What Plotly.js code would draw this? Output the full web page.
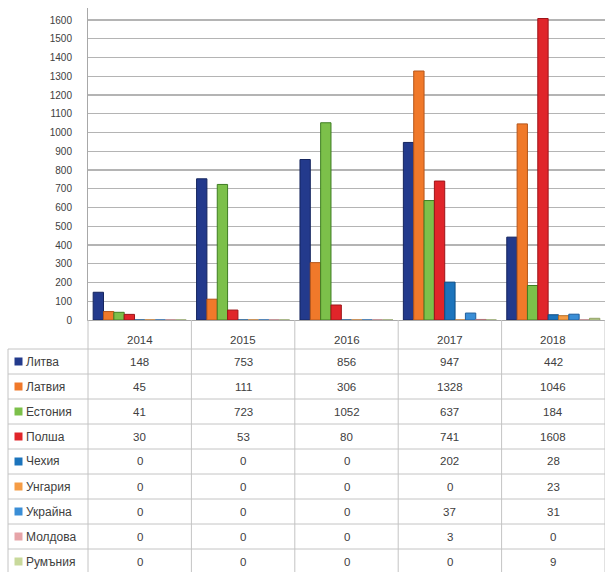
<!DOCTYPE html>
<html><head><meta charset="utf-8">
<script src="https://cdn.plot.ly/plotly-3.0.1.min.js"></script>
<style>html,body{margin:0;padding:0;background:#fff}#c{width:605px;height:572px}</style>
</head><body><div id="c"></div>
<script>
const years = ['2014','2015','2016','2017','2018'];
const countries = ['Литва','Латвия','Естония','Полша','Чехия','Унгария','Украйна','Молдова','Румъния'];
const litva   = [148, 753, 856, 947, 442];
const latvia  = [45, 111, 306, 1328, 1046];
const estonia = [41, 723, 1052, 637, 184];
const polsha  = [30, 53, 80, 741, 1608];
const chehia  = [0, 0, 0, 202, 28];
const ungaria = [0, 0, 0, 0, 23];
const ukraina = [0, 0, 0, 37, 31];
const moldova = [0, 0, 0, 3, 0];
const rumunia = [0, 0, 0, 0, 9];
const yTicks = [0,100,200,300,400,500,600,700,800,900,1000,1100,1200,1300,1400,1500,1600];

const series = [litva, latvia, estonia, polsha, chehia, ungaria, ukraina, moldova, rumunia];
const colors = ['#233A8C','#F0792A','#7CC04A','#E0252A','#1C74BC','#F59C45','#3A8ED6','#E6A4A8','#C8D99B'];
const edges  = ['#15255E','#B5561A','#3E7D22','#9E1418','#0F4E86','#B87026','#1F5F9E','#B07277','#8FA065'];

const W = 605, H = 572;
const plotL = 88;
const colW = (W - plotL) / years.length;
const px = v => v / W;
const py = v => 1 - v / H;
const colX = k => px(plotL + (k + 0.5) * colW);

const traces = series.map((vals, i) => ({
  type: 'bar', x: years, y: vals, name: countries[i],
  marker: {color: colors[i], line: {color: edges[i], width: 1}},
  hoverinfo: 'x+y+name'
}));

const lineCol = '#C4C4C4';
const shapes = [];
const annotations = [];
const rowTop = 349, rowH = 25;
for (let r = 0; r <= countries.length; r++) {
  const y = rowTop + r * rowH;
  shapes.push({type:'line', xref:'paper', yref:'paper', x0:px(8), x1:1, y0:py(y), y1:py(y), line:{color:lineCol, width:1}});
}
shapes.push({type:'line', xref:'paper', yref:'paper', x0:px(8), x1:px(8), y0:py(rowTop), y1:py(H+5), line:{color:lineCol, width:1}});
for (let k = 0; k <= years.length; k++) {
  const xx = px(plotL + k * colW);
  shapes.push({type:'line', xref:'paper', yref:'paper', x0:xx, x1:xx, y0:py(320), y1:py(H+5), line:{color:lineCol, width:1}});
}
years.forEach((yr, k) => annotations.push({xref:'paper', yref:'paper', x:colX(k), y:py(340), text:yr, showarrow:false,
  font:{size:11.5, color:'#404040'}, xanchor:'center', yanchor:'middle'}));
countries.forEach((c, i) => {
  const cy = rowTop + i * rowH + rowH / 2;
  shapes.push({type:'rect', xref:'paper', yref:'paper', x0:px(14.5), x1:px(22.5), y0:py(cy-4), y1:py(cy+4),
    fillcolor: colors[i], line:{width:0}});
  annotations.push({xref:'paper', yref:'paper', x:px(24), y:py(cy), text:c, showarrow:false,
    font:{size:12, color:'#404040'}, xanchor:'left', yanchor:'middle'});
  series[i].forEach((v, j) => annotations.push({xref:'paper', yref:'paper', x:colX(j), y:py(cy), text:String(v),
    showarrow:false, font:{size:11.5, color:'#404040'}, xanchor:'center', yanchor:'middle'}));
});

const layout = {
  width: W, height: H,
  margin: {l:0, r:0, t:0, b:0},
  paper_bgcolor: '#fff', plot_bgcolor: '#fff',
  font: {family: '"Liberation Sans", Arial, sans-serif', color: '#404040'},
  showlegend: false,
  barmode: 'group', bargap: 0.1, bargroupgap: 0,
  xaxis: {type:'category', domain:[plotL/W, 1], range:[-0.5, 4.5], showticklabels:false, ticks:'',
    showgrid:false, zeroline:false, showline:true, linecolor:'#A8A8A8', linewidth:1, fixedrange:true},
  yaxis: {domain:[1 - 320/H, 1 - 8/H], range:[0, 1664], tickvals: yTicks, ticktext: yTicks.map(String),
    tickfont:{size:10, color:'#404040'}, ticks:'', ticklabelstandoff: 13,
    showgrid:true, gridcolor:'#B4B4B4', gridwidth:1.3, zeroline:false,
    showline:true, linecolor:'#A8A8A8', linewidth:1, fixedrange:true},
  shapes: shapes,
  annotations: annotations
};

Plotly.newPlot('c', traces, layout, {displayModeBar:false, staticPlot:true});
</script>
</body></html>
